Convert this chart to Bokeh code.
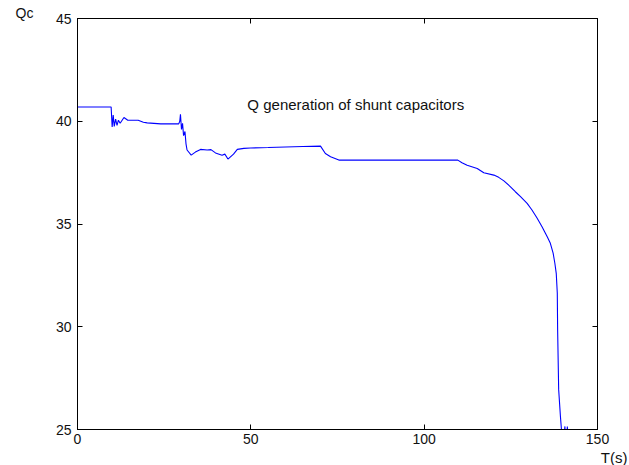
from bokeh.plotting import figure
from bokeh.models import Range1d, LinearAxis, Label, FixedTicker, CustomJSTickFormatter, Title
from bokeh.embed import file_html
from bokeh.resources import INLINE

# time (s) and reactive power generation of shunt capacitors
t = [0, 9.7, 10.0, 10.3, 10.6, 11.0, 11.4, 11.8, 12.3, 13.4, 14.5, 16.2, 17.5, 19.0, 20.1,
     24.0, 29.2, 29.5, 29.7, 30.0, 30.3, 30.6, 31.0, 31.3, 31.6, 32.8, 34.0, 35.5, 37.4,
     38.5, 39.8, 41.7, 42.5, 43.4, 45.0, 46.1, 48.0, 49.9, 55.0, 60.0, 65.0, 70.1, 71.5,
     73.0, 75.4, 109.7, 110.9, 112.4, 115.3, 117.2, 120.1, 121.5, 123.0, 124.9, 126.3,
     127.8, 129.7, 131.1, 132.6, 134.0, 135.5, 136.4, 137.2, 137.7, 138.1, 138.4, 138.5,
     138.8, 139.3, 139.6, 140.0, 140.6, 140.9, 141.3, 141.6]
qc = [40.69, 40.69, 39.72, 40.30, 39.75, 40.10, 39.80, 40.05, 39.90, 40.18, 40.05, 40.05,
      40.05, 39.95, 39.92, 39.87, 39.87, 40.00, 40.34, 39.60, 39.90, 39.30, 39.50, 38.90,
      38.60, 38.35, 38.50, 38.63, 38.60, 38.62, 38.46, 38.35, 38.40, 38.16, 38.40, 38.63,
      38.68, 38.70, 38.72, 38.75, 38.77, 38.79, 38.43, 38.27, 38.11, 38.11, 37.98, 37.86,
      37.70, 37.49, 37.38, 37.27, 37.10, 36.81, 36.57, 36.33, 36.00, 35.68, 35.28, 34.87,
      34.38, 34.06, 33.58, 33.09, 32.60, 31.64, 29.85, 26.94, 25.65, 25.00, 24.00, 25.15,
      24.00, 25.15, 24.00]

x_ticks = [0, 50, 100, 150]
y_ticks = [25, 30, 35, 40, 45]

FONT = "Liberation Sans"
TXT = "#111111"

p = figure(width=629, height=465, output_backend="svg", toolbar_location=None,
           x_range=Range1d(0, 150), y_range=Range1d(25, 45),
           min_border_left=77, min_border_right=32, min_border_top=18, min_border_bottom=35,
           x_axis_location=None, y_axis_location=None)
p.background_fill_color = "white"
p.border_fill_color = "white"
p.outline_line_color = "black"
p.grid.visible = False

def make_axis(ticks, labels=True):
    ax = LinearAxis(ticker=FixedTicker(ticks=ticks))
    ax.major_tick_in = 5
    ax.major_tick_out = 0
    ax.minor_tick_line_color = None
    ax.axis_line_color = "black"
    ax.major_tick_line_color = "black"
    ax.major_label_text_font = FONT
    ax.major_label_text_font_size = "14px"
    ax.major_label_text_color = TXT
    ax.major_label_standoff = 6
    if not labels:
        ax.formatter = CustomJSTickFormatter(code="return ''")
        ax.major_label_standoff = 0
    return ax

bottom = make_axis(x_ticks)
bottom.major_label_standoff = 4
p.add_layout(bottom, "below")
p.add_layout(make_axis(x_ticks, False), "above")
p.add_layout(make_axis(y_ticks), "left")
p.add_layout(make_axis(y_ticks, False), "right")

p.line(t, qc, line_color="#0000ff", line_width=1.1)

p.add_layout(Label(x=49, y=40.83, text="Q generation of shunt capacitors",
                   text_font=FONT, text_font_size="15px", text_baseline="middle",
                   text_color=TXT))

p.add_layout(Title(text="Qc", align="left", offset=-62, standoff=-5,
                   text_font=FONT, text_font_size="14px", text_font_style="normal",
                   text_color=TXT), "above")
p.add_layout(Title(text="T(s)", align="right", offset=-30, standoff=0,
                   text_font=FONT, text_font_size="15px", text_font_style="normal",
                   text_color=TXT), "below")

open("out.html", "w").write(file_html(p, INLINE))
